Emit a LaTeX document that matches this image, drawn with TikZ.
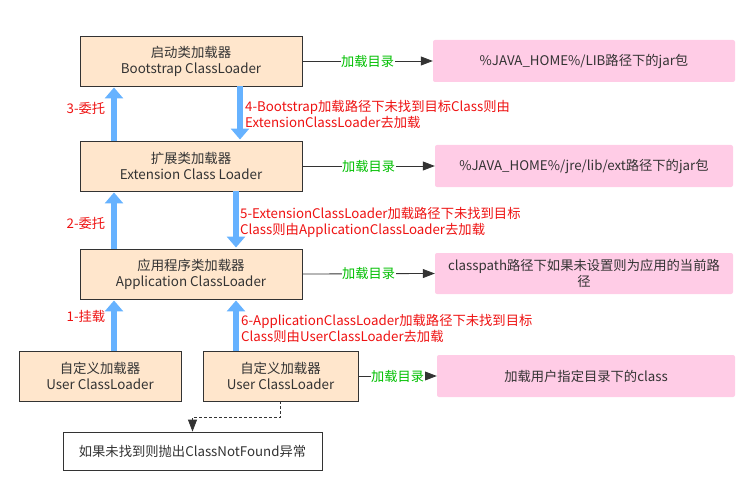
\documentclass[tikz,border=0pt]{standalone}
\usepackage{fontspec}
\setmainfont{Noto Sans CJK SC}
\usetikzlibrary{arrows.meta}
\definecolor{peach}{HTML}{FFE6CC}
\definecolor{pinkbox}{HTML}{FFCCE6}
\definecolor{boxline}{HTML}{333333}
\definecolor{txt}{HTML}{333333}
\definecolor{arrowblue}{HTML}{66B2FF}
\definecolor{lblred}{HTML}{EE1111}
\definecolor{lblgreen}{HTML}{00C000}
\begin{document}
\begin{tikzpicture}[x=1pt,y=-1pt,
  loader/.style={draw=boxline, fill=peach, line width=0.9pt, minimum height=50pt, align=center, inner sep=0pt, text=txt, font=\fontsize{13.4}{16}\selectfont},
  pinkb/.style={fill=pinkbox, rounded corners=2pt, minimum height=42pt, minimum width=298pt, align=center, inner sep=0pt, text=txt, font=\fontsize{13.3}{16}\selectfont},
  exbox/.style={draw=boxline, fill=white, line width=0.8pt, minimum width=259pt, minimum height=38pt, inner sep=0pt, text=txt, font=\fontsize{13.3}{16}\selectfont},
  bluearrow/.style={draw=arrowblue, line width=6pt, -{Triangle[length=11pt,width=18pt]}, shorten >=1pt},
  dirline/.style={draw=boxline, line width=0.8pt, -{Triangle[length=12pt,width=9pt]}},
  dirlabel/.style={fill=white, inner sep=0.5pt, text=lblgreen, font=\fontsize{13.2}{16}\selectfont},
  redlbl/.style={text=lblred, inner sep=0pt, align=left, font=\fontsize{13.3}{16}\selectfont},
  dashline/.style={draw=boxline, line width=0.8pt, dash pattern=on 3pt off 2pt, -{Triangle[length=12pt,width=9pt]}}
]
\useasboundingbox (0,0) rectangle (751,489);

% loader boxes
\node[loader, minimum width=222pt] (boot) at (191,61) {启动类加载器\\Bootstrap ClassLoader};
\node[loader, minimum width=222pt] (ext) at (191,166) {扩展类加载器\\Extension Class Loader};
\node[loader, minimum width=222pt] (app) at (191,274) {应用程序类加载器\\Application ClassLoader};
\node[loader, minimum width=162pt] (u1) at (100,376) {自定义加载器\\User ClassLoader};
\node[loader, minimum width=155pt] (u2) at (280.5,376) {自定义加载器\\User ClassLoader};
\node[exbox] (ex) at (192.5,451) {如果未找到则抛出ClassNotFound异常};

% pink boxes
\node[pinkb, minimum width=302pt] (p1) at (584,61) {\%JAVA\_HOME\%/LIB路径下的jar包};
\node[pinkb] (p2) at (584,166) {\%JAVA\_HOME\%/jre/lib/ext路径下的jar包};
\node[pinkb, minimum height=41pt] (p3) at (584,273.5) {classpath路径下如果未设置则为应用的当前路\\径};
\node[pinkb] (p4) at (586,376) {加载用户指定目录下的class};

% directory connectors
\draw[dirline] (boot.east) -- node[dirlabel] {加载目录} (p1.west);
\draw[dirline] (ext.east) -- node[dirlabel] {加载目录} (p2.west);
\draw[dirline] (app.east) -- node[dirlabel] {加载目录} (p3.west);
\draw[dirline] (u2.east) -- node[dirlabel] {加载目录} (p4.west);

% blue delegation arrows
\draw[bluearrow] ([xshift=-77pt]ext.north) -- ([xshift=-77pt]boot.south);
\draw[bluearrow] ([xshift=49pt]boot.south) -- ([xshift=49pt]ext.north);
\draw[bluearrow] ([xshift=-77pt]app.north) -- ([xshift=-77pt]ext.south);
\draw[bluearrow] ([xshift=45pt]ext.south) -- ([xshift=45pt]app.north);
\draw[bluearrow] ([xshift=14pt]u1.north) -- ([xshift=-77pt]app.south);
\draw[bluearrow] ([xshift=-44.5pt]u2.north) -- ([xshift=45pt]app.south);

% red labels
\node[redlbl] (l3) at (86,108) {3-委托};
\node[redlbl] (l2) at (86,223) {2-委托};
\node[redlbl] (l1) at (86,316) {1-挂载};
\node[redlbl, anchor=west] (l4) at (245,114) {4-Bootstrap加载路径下未找到目标Class则由\\ExtensionClassLoader去加载};
\node[redlbl, anchor=west] (l5) at (240,222) {5-ExtensionClassLoader加载路径下未找到目标\\Class则由ApplicationClassLoader去加载};
\node[redlbl, anchor=west] (l6) at (241,328) {6-ApplicationClassLoader加载路径下未找到目标\\Class则由UserClassLoader去加载};

% dashed connector
\draw[dashline] (u2.south) -- ++(0,16) -| (ex.north);
\end{tikzpicture}
\end{document}
